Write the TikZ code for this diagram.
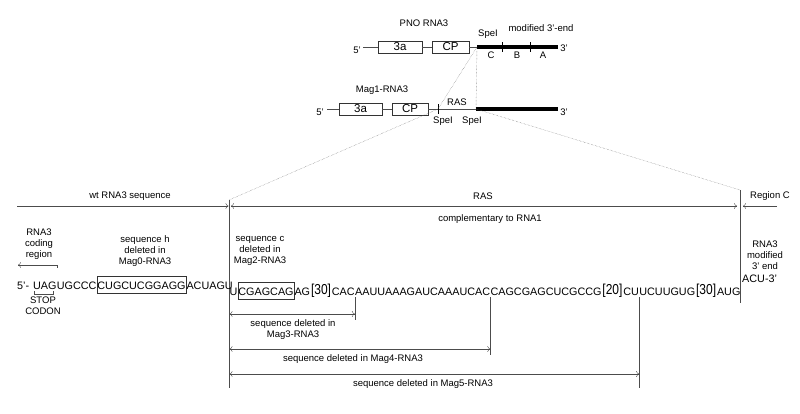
\documentclass[tikz,border=0pt]{standalone}
\usepackage{fontspec}
\setmainfont{Liberation Sans}
\usepackage{tikz}
\usetikzlibrary{positioning}
\usetikzlibrary{arrows.meta}

\begin{document}
\begin{tikzpicture}[x=1pt,y=-1pt,>={To[length=3pt,width=6pt]},thin,
	lbl/.style={font=\fontsize{9.5}{11}\selectfont,align=center,inner sep=0pt},
	seq/.style={font=\fontsize{10.8}{12}\selectfont,inner sep=0pt,text height=8pt,text depth=0pt,anchor=west},
	rep/.style={font=\fontsize{12}{12}\selectfont,inner sep=0pt,anchor=west,yscale=1.2},
	box/.style={draw=black!80,inner xsep=0.5pt,inner ysep=4.5pt},
	gene/.style={draw=black!80,minimum height=12pt,inner sep=0pt,font=\fontsize{11.5}{12}\selectfont},
	rule/.style={black!70},
	dim/.style={<->,black!70},
	link/.style={densely dotted,black!60}]
	
	\useasboundingbox (0,0) rectangle (800,413);
	
	% PNO RNA3
	\coordinate (p0) at (363,47);
	\coordinate (ps) at (477,47);
	\coordinate (pe) at (558,47);
	\coordinate (pb1) at (502,47);
	\coordinate (pb2) at (530,47);
	\node[gene, minimum width=44pt] (pa) at (400,47) {3a};
	\node[gene, minimum width=37pt] (pc) at (450.5,47) {CP};
	\node[lbl] (pname) at (424,23) {PNO RNA3};
	\node[lbl] (pmod) at (541,28) {modified 3'-end};
	\node[lbl] (pspe) at (488,34) {SpeI};
	\node[lbl] (p5) at (357,50) {5'};
	\node[lbl] (p3) at (564,48) {3'};
	\node[lbl] (pC) at (491,55) {C};
	\node[lbl] (pB) at (517,55) {B};
	\node[lbl] (pA) at (543,55) {A};
	\draw[rule] (p0) -- (pa) -- (pc) -- (ps);
	\draw[line width=3.3pt] (ps) -- (pe);
	\draw (pb1) +(0,-5) -- +(0,5);
	\draw (pb2) +(0,-5) -- +(0,5);
	
	% Mag1-RNA3
	\coordinate (m0) at (327,109);
	\coordinate (mt) at (438,109);
	\coordinate (ms) at (476,109);
	\coordinate (me) at (558,109);
	\node[gene, minimum width=43pt] (ma) at (360.5,109) {3a};
	\node[gene, minimum width=36pt] (mc) at (410,109) {CP};
	\node[lbl] (mname) at (382,90) {Mag1-RNA3};
	\node[lbl] (mras) at (457,102) {RAS};
	\node[lbl] (mspe1) at (443,121) {SpeI};
	\node[lbl] (mspe2) at (472,121) {SpeI};
	\node[lbl] (m5) at (320,112) {5'};
	\node[lbl] (m3) at (564,112) {3'};
	\draw[rule] (m0) -- (ma) -- (mc) -- (ms);
	\draw[line width=3.3pt] (ms) -- (me);
	\draw (mt) +(0,-5) -- +(0,5);
	
	% zoom lines
	\coordinate (lt) at (229,200);
	\coordinate (lb) at (229,388);
	\coordinate (rt) at (740,190);
	\coordinate (rb) at (740,303);
	\draw[link] (ps) -- (ms);
	\draw[link] (ps) -- (mt);
	\draw[link] (mt) -- (lt);
	\draw[link] (ms) -- (rt);
	
	% regions
	\coordinate (w0) at (17,206);
	\coordinate (c0) at (777,206);
	\node[lbl] (wt) at (130,196) {wt RNA3 sequence};
	\node[lbl] (ras) at (483,196) {RAS};
	\node[lbl] (regc) at (770,196) {Region C};
	\node[lbl] (compl) at (490,219) {complementary to RNA1};
	\draw[rule] (lt) -- (lb);
	\draw[rule] (rt) -- (rb);
	\draw[->,rule,shorten >=0.5pt] (w0) -- (lt |- w0);
	\draw[dim,shorten <=2pt,shorten >=3pt] (lt |- w0) -- (rt |- w0);
	\draw[->,rule,shorten >=3pt] (c0) -- (rt |- c0);
	
	% labels above the sequence
	\node[lbl] (coding) at (39,244.5) {RNA3\\coding\\region};
	\node[lbl] (seqh) at (145,251) {sequence h\\deleted in\\Mag0-RNA3};
	\node[lbl] (seqc) at (260,251) {sequence c\\deleted in\\Mag2-RNA3};
	\node[lbl] (modend) at (765,255) {RNA3\\modified\\3' end};
	\coordinate (cr) at (57,265);
	\coordinate (cl) at (18,265);
	\draw[->,rule] (cr) -- (cl);
	\draw[rule] (cr) -- ++(0,3);
	
	% wt sequence
	\node[seq] (s5) at (17,285) {5'-};
	\node[seq, right=3.5pt of s5] (stop) {UAG};
	\node[seq, right=0pt of stop] (sa) {UGCCC};
	\node[seq, box, right=0pt of sa] (sh) {CUGCUCGGAGG};
	\node[seq, right=0pt of sh] (sb) {ACUAGU};
	\draw[rule] ([xshift=1pt,yshift=-2pt]stop.south west) -- ++(0,3) -| ([xshift=-4pt,yshift=-2pt]stop.south east);
	\node[lbl] (codon) at (43,305.5) {STOP\\CODON};
	
	% RAS sequence
	\node[seq] (su) at (229.5,291) {U};
	\node[seq, box, right=0pt of su] (sc) {CGAGCAG};
	\node[seq, right=0pt of sc] (sd) {AG};
	\node[rep, right=0.5pt of sd] (r1) {[30]};
	\node[seq, right=0.5pt of r1] (k3) {CAC};
	\node[seq, right=0pt of k3] (k4) {AAUUAAAGAUCAAAUCAC};
	\node[seq, right=0pt of k4] (k5) {CAGCGAGCUCGCCG};
	\node[rep, right=0.5pt of k5] (r2) {[20]};
	\node[seq, right=0.5pt of r2] (k6) {CU};
	\node[seq, right=0pt of k6] (k7) {UCUUGUG};
	\node[rep, right=0.5pt of k7] (r3) {[30]};
	\node[seq, right=0.5pt of r3] (k8) {AUG};
	\node[seq] (acu) at (742,278) {ACU-3'};
	
	% deletions
	\draw[rule] ([yshift=-6pt]k3.east) -- (k3.east |- 0,320);
	\draw[rule] ([yshift=-6pt]k4.east) -- (k4.east |- 0,355);
	\draw[rule] ([yshift=-6pt]k6.east) -- (k6.east |- 0,388);
	\draw[dim,shorten <=0.5pt] (lt |- 0,314) -- (k3.east |- 0,314);
	\draw[dim,shorten <=0.5pt] (lt |- 0,349) -- (k4.east |- 0,349);
	\draw[dim,shorten <=0.5pt] (lt |- 0,374) -- (k6.east |- 0,374);
	\node[lbl] (del3) at (293,329.5) {sequence deleted in\\Mag3-RNA3};
	\node[lbl] (del4) at (353,359) {sequence deleted in Mag4-RNA3};
	\node[lbl] (del5) at (423,384) {sequence deleted in Mag5-RNA3};
\end{tikzpicture}
\end{document}
